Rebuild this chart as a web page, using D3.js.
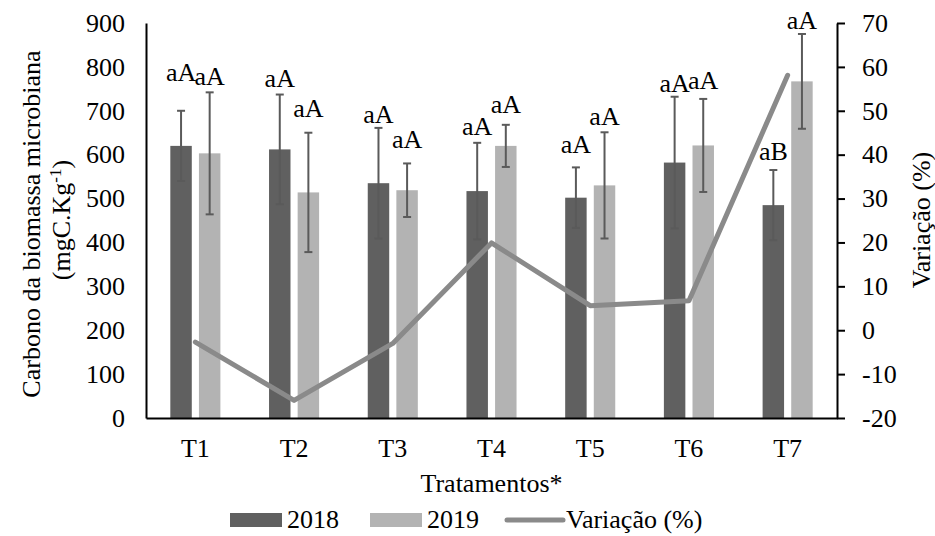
<!DOCTYPE html>
<html>
<head>
<meta charset="utf-8">
<script src="https://cdn.jsdelivr.net/npm/d3@7"></script>
<style>
  html, body { margin: 0; padding: 0; background: #ffffff; }
  svg { display: block; }
  svg text { font-family: "Liberation Serif", "Times New Roman", serif; fill: #000; }
</style>
</head>
<body>
<svg id="chart" width="935" height="536" font-family="Liberation Serif"></svg>
<script>
// Treatments and microbial biomass carbon (mgC.Kg-1) per year
const categories = ["T1", "T2", "T3", "T4", "T5", "T6", "T7"];
const years = ["2018", "2019"];
const carbon2018 = [620, 612, 535, 517, 502, 582, 485];
const carbon2019 = [603, 514, 519, 620, 530, 621, 767];
const error2018 = [80, 125, 126, 110, 69, 150, 80];
const error2019 = [139, 136, 61, 48, 121, 106, 108];
// Change between years (%)
const variacao = [-2.7, -16.0, -3.0, 19.9, 5.6, 6.7, 58.1];
// Statistical letters over each bar
const letters2018 = ["aA", "aA", "aA", "aA", "aA", "aA", "aB"];
const letters2019 = ["aA", "aA", "aA", "aA", "aA", "aA", "aA"];
// Axis ticks
const leftTicks = [0, 100, 200, 300, 400, 500, 600, 700, 800, 900];
const rightTicks = [-20, -10, 0, 10, 20, 30, 40, 50, 60, 70];

// Layout: how far (px) each letter label sits above its error cap
const lift2018 = [30, 8, 5, 8, 14, 5, 10];
const lift2019 = [7, 16, 15, 12, 7, 10, 5];

const serif = "Liberation Serif";
const fs = 26;
const colors = { "2018": "#606060", "2019": "#b3b3b3" };
const lineColor = "#8a8a8a";
const errColor = "#5a5a5a";

const plot = { left: 146, right: 837, top: 23, bottom: 418 };

const svg = d3.select("#chart");

const x = d3.scaleBand().domain(categories).range([plot.left, plot.right]).paddingInner(0).paddingOuter(0);
const xs = d3.scaleBand().domain(years).range([0, x.bandwidth()]).paddingInner(0.25).paddingOuter(0.85);
const y = d3.scaleLinear().domain([0, 900]).range([plot.bottom, plot.top]);
const yR = d3.scaleLinear().domain([-20, 70]).range([plot.bottom, plot.top]);

const rows = categories.map((c, i) => ({
  cat: c,
  series: [
    { year: "2018", v: carbon2018[i], e: error2018[i], label: letters2018[i], lift: lift2018[i] },
    { year: "2019", v: carbon2019[i], e: error2019[i], label: letters2019[i], lift: lift2019[i] }
  ]
}));

// Bars
const groups = svg.append("g").selectAll("g").data(rows).join("g")
  .attr("transform", d => `translate(${x(d.cat)},0)`);

groups.selectAll("rect").data(d => d.series).join("rect")
  .attr("x", d => xs(d.year))
  .attr("width", xs.bandwidth())
  .attr("y", d => y(d.v))
  .attr("height", d => y(0) - y(d.v))
  .attr("fill", d => colors[d.year]);

// Error bars
const capW = 8;
const cx = d => xs(d.year) + xs.bandwidth() / 2;
const eb = groups.selectAll("g.err").data(d => d.series).join("g").attr("class", "err")
  .attr("stroke", errColor).attr("stroke-width", 2).attr("fill", "none");
eb.append("line")
  .attr("x1", cx).attr("x2", cx)
  .attr("y1", d => y(d.v - d.e))
  .attr("y2", d => y(d.v + d.e));
eb.append("line")
  .attr("x1", d => cx(d) - capW / 2).attr("x2", d => cx(d) + capW / 2)
  .attr("y1", d => y(d.v + d.e)).attr("y2", d => y(d.v + d.e));
eb.append("line")
  .attr("x1", d => cx(d) - capW / 2).attr("x2", d => cx(d) + capW / 2)
  .attr("y1", d => y(d.v - d.e)).attr("y2", d => y(d.v - d.e));

// Variation line on the secondary axis
const line = d3.line()
  .x((d, i) => x(categories[i]) + x.bandwidth() / 2)
  .y(d => yR(d));
svg.append("path")
  .datum(variacao)
  .attr("d", line)
  .attr("fill", "none")
  .attr("stroke", lineColor)
  .attr("stroke-width", 5)
  .attr("stroke-linejoin", "round")
  .attr("stroke-linecap", "round");

// Letter labels
groups.selectAll("text.lab").data(d => d.series).join("text").attr("class", "lab")
  .attr("x", cx)
  .attr("y", d => y(d.v + d.e) - d.lift)
  .attr("text-anchor", "middle")
  .attr("font-family", serif)
  .style("font-size", fs + "px")
  .text(d => d.label);

// Axes
const leftAxis = svg.append("g").attr("transform", `translate(${plot.left},0)`)
  .call(d3.axisLeft(y).tickValues(leftTicks).tickSize(0).tickPadding(21).tickFormat(d => String(d)));
leftAxis.attr("font-family", serif).attr("font-size", fs);
leftAxis.select(".domain").attr("stroke", "#000").attr("stroke-width", 2);
leftAxis.selectAll("text").attr("fill", "#000");

const rightAxis = svg.append("g").attr("transform", `translate(${plot.right},0)`)
  .call(d3.axisRight(yR).tickValues(rightTicks).tickSize(8).tickSizeOuter(0).tickPadding(17)
    .tickFormat(d => (d < 0 ? "-" + Math.abs(d) : String(d))));
rightAxis.attr("font-family", serif).attr("font-size", fs);
rightAxis.select(".domain").attr("stroke", "#000").attr("stroke-width", 2);
rightAxis.selectAll(".tick line").attr("stroke", "#000").attr("stroke-width", 2);
rightAxis.selectAll("text").attr("fill", "#000");

const bottomAxis = svg.append("g").attr("transform", `translate(0,${plot.bottom})`)
  .call(d3.axisBottom(x).tickSize(0).tickPadding(21));
bottomAxis.attr("font-family", serif).attr("font-size", fs);
bottomAxis.select(".domain").attr("stroke", "#000").attr("stroke-width", 2);
bottomAxis.selectAll("text").attr("fill", "#000");

// Axis titles
svg.append("text")
  .attr("transform", "translate(31,224) rotate(-90)")
  .attr("text-anchor", "middle").attr("dy", "0.35em")
  .attr("font-family", serif)
  .style("font-size", fs + "px")
  .text("Carbono da biomassa microbiana");

const sub = svg.append("text")
  .attr("transform", "translate(61,220) rotate(-90)")
  .attr("text-anchor", "middle").attr("dy", "0.35em")
  .attr("font-family", serif)
  .style("font-size", fs + "px");
sub.append("tspan").text("(mgC.Kg");
sub.append("tspan").attr("dy", "-9").style("font-size", "17px").text("-1");
sub.append("tspan").attr("dy", "9").text(")");

svg.append("text")
  .attr("transform", "translate(921,220) rotate(-90)")
  .attr("text-anchor", "middle").attr("dy", "0.35em")
  .attr("font-family", serif)
  .style("font-size", fs + "px")
  .text("Variação (%)");

svg.append("text")
  .attr("x", (plot.left + plot.right) / 2).attr("y", 492)
  .attr("text-anchor", "middle")
  .attr("font-family", serif)
  .style("font-size", fs + "px")
  .text("Tratamentos*");

// Legend
const legend = svg.append("g").attr("transform", "translate(0,520)");
const legendItems = [
  { type: "rect", key: "2018", x: 230, label: "2018" },
  { type: "rect", key: "2019", x: 370, label: "2019" },
  { type: "line", key: "var", x: 507, label: "Variação (%)" }
];
legendItems.forEach(it => {
  if (it.type === "rect") {
    legend.append("rect").attr("x", it.x).attr("y", -7).attr("width", 52).attr("height", 14)
      .attr("fill", colors[it.key]);
  } else {
    legend.append("line").attr("x1", it.x).attr("x2", it.x + 56).attr("y1", 0).attr("y2", 0)
      .attr("stroke", lineColor).attr("stroke-width", 5).attr("stroke-linecap", "round");
  }
  legend.append("text").attr("x", it.x + (it.type === "rect" ? 57 : 59)).attr("y", 8)
    .attr("font-family", serif)
    .style("font-size", fs + "px").text(it.label);
});
</script>
</body>
</html>
